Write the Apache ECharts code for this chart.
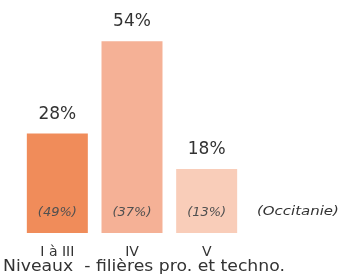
<!DOCTYPE html>
<html lang="fr">
<head>
    <meta charset="UTF-8">
    <title>Niveaux - filières pro. et techno.</title>
    <script src="https://cdn.jsdelivr.net/npm/echarts@6/dist/echarts.min.js"></script>
    <style>
        html, body { margin: 0; padding: 0; background: #fff; }
    </style>
</head>
<body>
    <div id="main" style="width:340px;height:277px;"></div>
    <script type="text/javascript">
        // données
        var niveaux = ['I à III', 'IV', 'V'];
        var partEtab = [28, 54, 18];        // % affichés au-dessus des barres
        var partOccitanie = [49, 37, 13];   // % Occitanie (entre parenthèses)
        var couleurs = ['#f08c5a', '#f5b196', '#f9cdb9'];

        var chartDom = document.getElementById('main');
        var myChart = echarts.init(chartDom);

        var option = {
            animation: false,
            backgroundColor: '#fff',
            grid: { left: 20, right: 96, top: 20, bottom: 44 },
            xAxis: {
                type: 'category',
                data: niveaux,
                axisLine: { show: false },
                axisTick: { show: false },
                axisLabel: {
                    margin: 12,
                    color: '#333',
                    fontSize: 14,
                    fontFamily: 'DejaVu Sans'
                }
            },
            yAxis: {
                type: 'value',
                min: 0,
                max: 60,
                show: false
            },
            series: [
                {
                    type: 'bar',
                    barWidth: 61,
                    data: partEtab.map(function (v, i) {
                        return { value: v, itemStyle: { color: couleurs[i] } };
                    }),
                    label: {
                        show: true,
                        position: 'top',
                        distance: 11,
                        formatter: '{c}%',
                        color: '#333',
                        fontSize: 17,
                        fontFamily: 'DejaVu Sans'
                    }
                },
                {
                    // série transparente qui porte les étiquettes Occitanie
                    type: 'bar',
                    barWidth: 61,
                    barGap: '-100%',
                    silent: true,
                    itemStyle: { color: 'rgba(0,0,0,0)' },
                    data: partEtab,
                    label: {
                        show: true,
                        position: 'insideBottom',
                        distance: 14,
                        formatter: function (p) {
                            return '(' + partOccitanie[p.dataIndex] + '%)';
                        },
                        color: '#505050',
                        fontSize: 13,
                        fontStyle: 'italic',
                        fontFamily: 'DejaVu Sans'
                    }
                }
            ],
            graphic: [
                {
                    type: 'text',
                    x: 257,
                    y: 205,
                    scaleX: 1.15,
                    style: {
                        text: '(Occitanie)',
                        fill: '#333',
                        font: 'italic 13px "DejaVu Sans"'
                    }
                },
                {
                    type: 'text',
                    x: 3,
                    y: 260,
                    scaleX: 1.15,
                    style: {
                        text: 'Niveaux  - filières pro. et techno.',
                        fill: '#333',
                        font: '15px "DejaVu Sans"'
                    }
                }
            ]
        };

        myChart.setOption(option);
    </script>
</body>
</html>
